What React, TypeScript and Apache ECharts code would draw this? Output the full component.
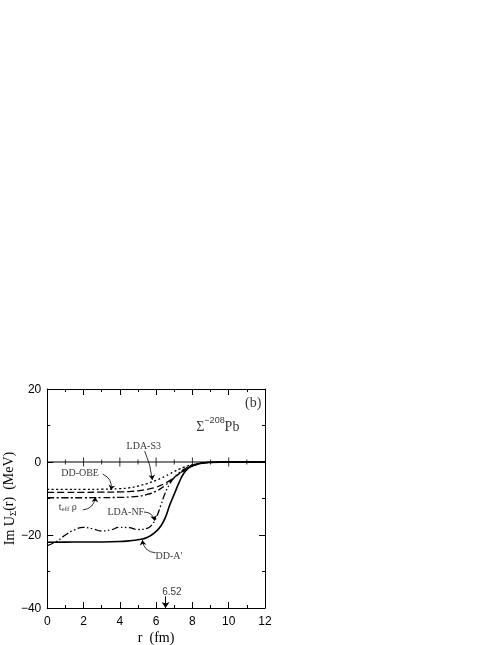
import React, { useEffect, useRef } from "react";
import * as echarts from "echarts";

// radius grid (fm) for the four smooth potentials
const rGrid = [0, 1, 2, 3, 4, 4.5, 5, 5.5, 6, 6.25, 6.5, 6.75, 7, 7.25, 7.5, 7.75, 8, 8.5, 9, 10, 12];
const ddA = [-22.0, -21.95, -21.9, -21.9, -21.8, -21.6, -21.3, -20.7, -19.0, -17.6, -15.3, -11.8, -8.8, -5.8, -3.3, -1.8, -1.0, -0.3, -0.1, 0, 0];
const ldaS3 = [-7.5, -7.5, -7.5, -7.45, -7.3, -7.1, -6.6, -5.9, -5.0, -4.5, -3.9, -3.25, -2.6, -2.0, -1.5, -1.05, -0.7, -0.3, -0.1, 0, 0];
const ddOBE = [-8.3, -8.3, -8.3, -8.25, -8.2, -8.1, -7.9, -7.5, -6.9, -6.4, -5.8, -5.1, -4.2, -3.3, -2.5, -1.7, -1.1, -0.4, -0.1, 0, 0];
const teffRho = [-9.8, -9.8, -9.8, -9.75, -9.7, -9.6, -9.4, -8.9, -8.0, -7.3, -6.4, -5.4, -4.3, -3.3, -2.4, -1.6, -1.0, -0.35, -0.1, 0, 0];
// LDA-NF has its own grid (wiggly interior)
const rNF = [0, 0.5, 1, 1.5, 2, 2.5, 3, 3.5, 4, 4.5, 5, 5.5, 5.75, 6, 6.25, 6.5, 6.75, 7, 7.25, 7.5, 7.75, 8, 8.5, 9, 10, 12];
const ldaNF = [-22.9, -21.8, -20.0, -18.6, -17.9, -18.3, -18.9, -18.6, -17.9, -18.0, -18.5, -18.2, -17.3, -15.3, -12.0, -8.5, -6.0, -4.2, -3.0, -2.1, -1.4, -0.8, -0.3, -0.1, 0, 0];

// ticks drawn on the zero line
const zeroMajorTicks = [2, 4, 6, 8, 10];
const zeroMinorTicks = [1, 3, 5, 7, 9, 11];

const xMin = 0, xMax = 12, xInterval = 2;
const yMin = -40, yMax = 20, yInterval = 20;
const markedRadius = 6.52;

const SERIF = "'Liberation Serif', 'DejaVu Serif', serif";
const SANS = "'Liberation Sans', Arial, sans-serif";

const pairs = (xs: number[], ys: number[]) => xs.map((x, i) => [x, ys[i]]);

const fmtY = (v: number) => (v < 0 ? "\u2212" + Math.abs(v) : String(v));

export default function App() {
  const ref = useRef<HTMLDivElement>(null);
  useEffect(() => {
    if (!ref.current) return;
    document.body.style.margin = "0";
    const chart = echarts.init(ref.current, undefined, { renderer: "svg" });

    const axisCommon = {
      axisLine: { show: true, onZero: false, lineStyle: { color: "#000", width: 1 } },
      axisTick: { show: true, inside: true, length: 6, lineStyle: { color: "#000", width: 1 } },
      minorTick: { show: true, splitNumber: 2, length: 3, lineStyle: { color: "#000", width: 1 } },
      splitLine: { show: false },
    };

    const curve = (name: string, data: number[][], width: number, type: any) => ({
      name,
      type: "line",
      data,
      smooth: 0.5,
      symbol: "none",
      lineStyle: { color: "#000", width, type },
      z: 3,
    });

    const label = (value: number[], formatter: string, rich?: any, fontSize = 10, fontFamily = SERIF) => ({
      value,
      label: {
        show: true,
        position: "inside",
        formatter,
        color: "#000",
        fontSize,
        fontFamily,
        rich,
      },
    });

    const arrow = (from: number[], to: number[], curveness: number) => ({
      coords: [from, to],
      lineStyle: { curveness },
    });

    const option: any = {
      animation: false,
      grid: { left: 46, right: 233, top: 389, bottom: 37, containLabel: false },
      xAxis: [
        {
          type: "value",
          min: xMin,
          max: xMax,
          interval: xInterval,
          position: "bottom",
          ...axisCommon,
          axisLabel: { color: "#000", fontSize: 12, fontFamily: SANS, margin: 7 },
          name: "r  (fm)",
          nameLocation: "middle",
          nameGap: 22,
          nameTextStyle: { color: "#000", fontSize: 14, fontFamily: SERIF },
        },
        {
          type: "value",
          min: xMin,
          max: xMax,
          interval: xInterval,
          position: "top",
          ...axisCommon,
          axisLabel: { show: false },
        },
      ],
      yAxis: [
        {
          type: "value",
          min: yMin,
          max: yMax,
          interval: yInterval,
          position: "left",
          ...axisCommon,
          axisLabel: { color: "#000", fontSize: 12, fontFamily: SANS, margin: 6, formatter: fmtY },
          name: "Im U{s|\u03A3}{b|(r)  (MeV)}",
          nameLocation: "middle",
          nameRotate: 90,
          nameGap: 30,
          nameTextStyle: {
            color: "#000",
            fontSize: 14,
            fontFamily: SERIF,
            verticalAlign: "top",
            rich: {
              s: { fontSize: 9, fontFamily: SERIF, color: "#000", verticalAlign: "top", padding: [7, 0, 0, 0] },
              b: { fontSize: 14, fontFamily: SERIF, color: "#000", verticalAlign: "top" },
            },
          },
        },
        {
          type: "value",
          min: yMin,
          max: yMax,
          interval: yInterval,
          position: "right",
          ...axisCommon,
          axisLabel: { show: false },
        },
      ],
      series: [
        {
          name: "zero",
          type: "line",
          data: [[xMin, 0], [xMax, 0]],
          symbol: "none",
          lineStyle: { color: "#000", width: 1 },
          z: 2,
        },
        {
          name: "zeroMajor",
          type: "scatter",
          data: zeroMajorTicks.map((x) => [x, 0]),
          symbol: "rect",
          symbolSize: [1, 9],
          itemStyle: { color: "#000" },
          z: 2,
        },
        {
          name: "zeroMinor",
          type: "scatter",
          data: zeroMinorTicks.map((x) => [x, 0]),
          symbol: "rect",
          symbolSize: [1, 5],
          itemStyle: { color: "#000" },
          z: 2,
        },
        curve("DD-A'", pairs(rGrid, ddA), 1.6, "solid"),
        curve("LDA-S3", pairs(rGrid, ldaS3), 1.3, [2, 2.5]),
        curve("DD-OBE", pairs(rGrid, ddOBE), 1.3, [7, 3]),
        curve("t_eff rho", pairs(rGrid, teffRho), 1.3, [7, 2.5, 2, 2.5]),
        curve("LDA-NF", pairs(rNF, ldaNF), 1.3, [7, 2.5, 1.5, 2.5, 1.5, 2.5]),
        {
          name: "arrows",
          type: "lines",
          coordinateSystem: "cartesian2d",
          symbol: ["none", "arrow"],
          symbolSize: 5,
          lineStyle: { color: "#000", width: 0.8, opacity: 1 },
          data: [
            arrow([5.37, 3.0], [5.79, -4.9], 0.08),
            arrow([3.05, -3.3], [3.51, -7.7], 0.4),
            arrow([1.96, -13.15], [2.65, -9.6], -0.4),
            arrow([5.33, -13.7], [5.92, -16.1], 0.4),
            arrow([5.97, -24.9], [5.24, -21.4], 0.4),
          ],
          z: 4,
        },
        {
          name: "radiusArrow",
          type: "lines",
          coordinateSystem: "cartesian2d",
          symbol: ["none", "arrow"],
          symbolSize: 6,
          lineStyle: { color: "#000", width: 1, opacity: 1 },
          data: [{ coords: [[markedRadius, -36.8], [markedRadius, yMin]] }],
          z: 4,
        },
        {
          name: "texts",
          type: "scatter",
          symbolSize: 1,
          itemStyle: { color: "rgba(0,0,0,0)" },
          z: 5,
          data: [
            label([5.32, 4.5], "LDA-S3"),
            label([1.81, -2.9], "DD-OBE"),
            label([4.33, -13.6], "LDA-NF"),
            label([6.7, -25.5], "DD-A'"),
            label(
              [1.13, -12.4],
              "{t|t}{s|eff}{t| \u03C1}",
              {
                t: { fontSize: 10, fontFamily: SERIF, color: "#000", verticalAlign: "top" },
                s: { fontSize: 7, fontFamily: SERIF, color: "#000", verticalAlign: "top", padding: [4, 0, 0, 0] },
              }
            ),
            label([6.87, -35.5], String(markedRadius), undefined, 10, SANS),
            label(
              [9.4, 10.2],
              "{b|\u03A3}{p|\u2212208}{b|Pb}",
              {
                b: { fontSize: 14, fontFamily: SERIF, color: "#000", verticalAlign: "top", padding: [4, 0, 0, 0] },
                p: { fontSize: 9, fontFamily: SANS, color: "#000", verticalAlign: "top" },
              }
            ),
            label([11.35, 16.3], "(b)", undefined, 14, SERIF),
          ],
        },
      ],
    };

    chart.setOption(option);
    return () => chart.dispose();
  }, []);

  return <div ref={ref} style={{ position: "fixed", left: 0, top: 0, width: 498, height: 645 }} />;
}
